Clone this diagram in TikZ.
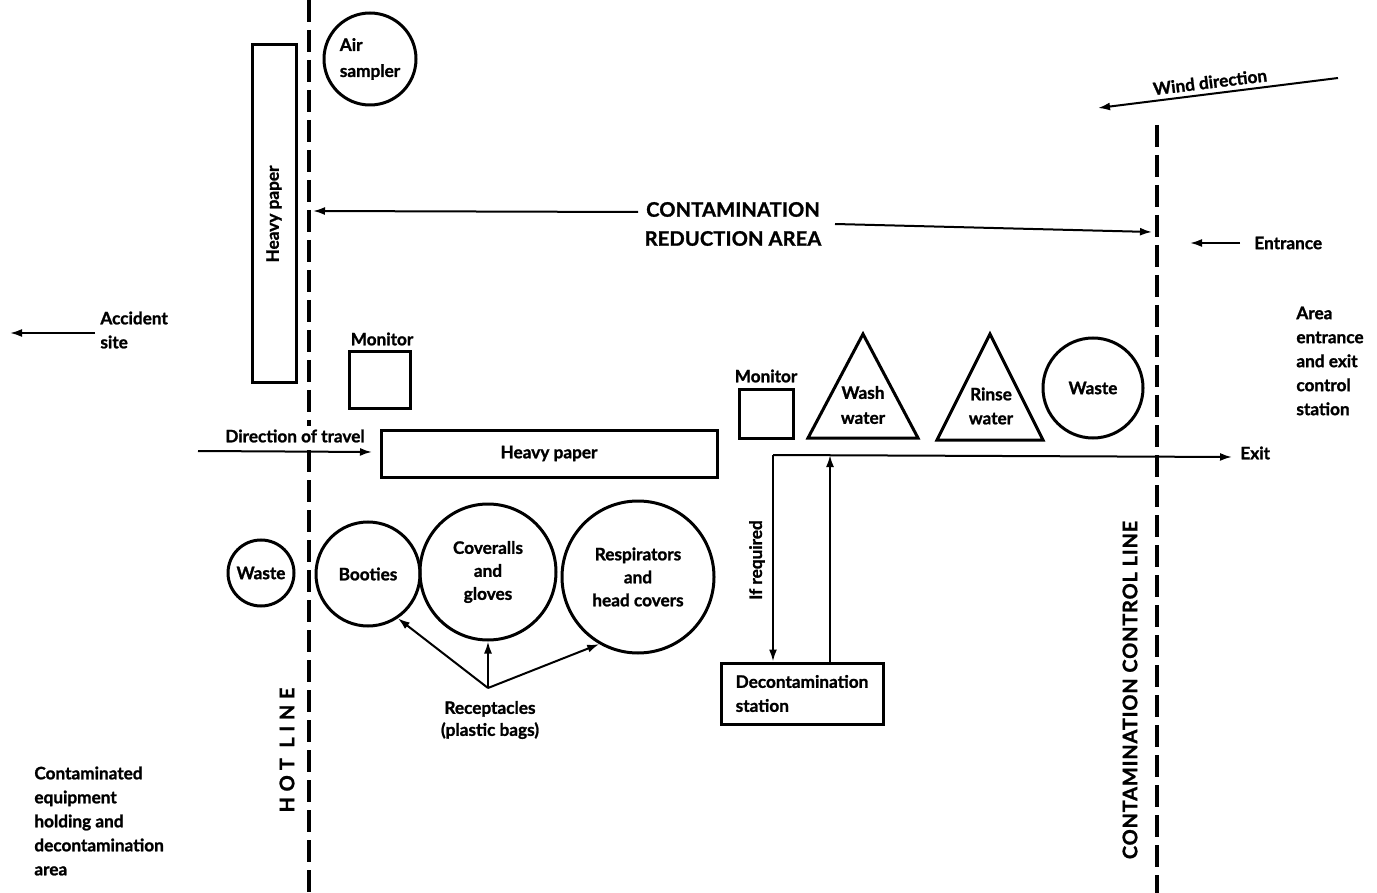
\documentclass[tikz,border=0pt]{standalone}
\usepackage{fontspec}
\setmainfont{Lato}[BoldFeatures={FakeBold=1.3}]
\newfontfamily\capsfont{Lato}[LetterSpace=1,BoldFeatures={FakeBold=1.3}]
\newfontfamily\ccfont{Lato}[LetterSpace=4,BoldFeatures={FakeBold=1.3}]
\newfontfamily\hotfont{Lato}[LetterSpace=28,BoldFeatures={FakeBold=1.3}]
\usetikzlibrary{arrows.meta,shapes.geometric}
\begin{document}
\begin{tikzpicture}[x=0.5pt,y=-0.5pt,
 lbl/.style={font=\bfseries\fontsize{8.6}{12}\selectfont, inner sep=0pt, align=left},
 lblc/.style={lbl, align=center},
 shp/.style={draw, line width=1.5pt, inner sep=0pt},
 rectbox/.style={shp, rectangle},
 circbox/.style={shp, circle, font=\bfseries\fontsize{8.6}{11.5}\selectfont, align=center},
 arr/.style={line width=1pt, -{Latex[length=6pt,width=4pt]}},
 dline/.style={line width=2pt, dash pattern=on 11pt off 4pt},
 bigcaps/.style={font=\capsfont\bfseries\fontsize{10}{14.5}\selectfont, inner sep=0pt, align=center},
]
\useasboundingbox (0,0) rectangle (1377,893);

% dashed boundary lines
\coordinate (hotT) at (309,0);
\coordinate (hotB) at (309,893);
\draw[dline] (hotT) -- (hotB);
\coordinate (ccT) at (1157,125);
\coordinate (ccB) at (1157,893);
\draw[dline] (ccT) -- (ccB);

\node[rotate=90, font=\hotfont\bfseries\fontsize{10}{12}\selectfont, inner sep=0pt] (hotlbl) at (287,750) {HOT LINE};
\node[rotate=90, font=\ccfont\bfseries\fontsize{10}{12}\selectfont, inner sep=0pt] (cclbl) at (1130,690) {CONTAMINATION CONTROL LINE};

% vertical heavy paper
\node[rectbox, rotate=90, minimum width=169pt, minimum height=22pt, font=\bfseries\fontsize{8.6}{12}\selectfont] (hp1) at (274,214) {Heavy paper};

% air sampler
\node[circbox, minimum size=46pt, align=left, font=\bfseries\fontsize{8.6}{13}\selectfont] (air) at (370,59) {Air\\sampler};

% contamination reduction area
\node[bigcaps] (cra) at (733,224) {CONTAMINATION\\REDUCTION AREA};
\coordinate (craL0) at (638,212);
\coordinate (craL1) at (313,211);
\coordinate (craR0) at (835,224);
\coordinate (craR1) at (1152,232);
\draw[arr] (craL0) -- (craL1);
\draw[arr] (craR0) -- (craR1);

% wind direction
\coordinate (w1) at (1338,78);
\coordinate (w2) at (1098,108);
\draw[arr] (w1) -- (w2);
\node[lbl, rotate=7] (windlbl) at (1210,82) {Wind direction};

% entrance
\node[lbl, anchor=west] (entr) at (1254,243) {Entrance};
\coordinate (e0) at (1240,243);
\coordinate (e1) at (1190,243);
\draw[arr] (e0) -- (e1);

\node[lbl, anchor=west] (areatxt) at (1296,361) {Area\\entrance\\and exit\\control\\station};

% accident site
\node[lbl, anchor=west] (acc) at (100,330) {Accident\\site};
\coordinate (a0) at (95,333);
\coordinate (a1) at (10,333);
\draw[arr] (a0) -- (a1);

% monitors
\node[lblc] (mon1lbl) at (382,339) {Monitor};
\node[rectbox, minimum width=30.5pt, minimum height=28.5pt] (mon1) at (379.5,380.5) {};
\node[lblc] (mon2lbl) at (766,376) {Monitor};
\node[rectbox, minimum width=27pt, minimum height=24pt] (mon2) at (766,414) {};

% horizontal heavy paper and direction of travel
\node[rectbox, minimum width=168pt, minimum height=23.5pt, font=\bfseries\fontsize{8.6}{12}\selectfont] (hp2) at (549,453.5) {Heavy paper};
\node[lblc, fill=white, inner sep=2pt] (dirlbl) at (295,436) {Direction of travel};
\coordinate (d0) at (198,451);
\coordinate (d1) at (372,452);
\draw[arr] (d0) -- (d1);

% wash / rinse water
\coordinate (wA) at (863,334);
\coordinate (wB) at (918,438);
\coordinate (wC) at (808,438);
\draw[line width=1.5pt, line join=miter] (wA) -- (wB) -- (wC) -- cycle;
\node[lblc, font=\bfseries\fontsize{8.6}{12.5}\selectfont] (washlbl) at (863,405) {Wash\\water};
\coordinate (rA) at (990,334);
\coordinate (rB) at (1043,440);
\coordinate (rC) at (937,440);
\draw[line width=1.5pt, line join=miter] (rA) -- (rB) -- (rC) -- cycle;
\node[lblc, font=\bfseries\fontsize{8.6}{12}\selectfont] (rinselbl) at (991,406) {Rinse\\water};

\node[circbox, minimum size=50pt] (waste2) at (1093,388) {Waste};

% exit route and decontamination station
\node[rectbox, minimum width=81pt, minimum height=30.5pt, align=left, font=\bfseries\fontsize{8.6}{12}\selectfont] (decon) at (802,693.5) {Decontamination\\station};
\coordinate (c1) at (773,455);
\coordinate (exitend) at (1232,457);
\draw[arr] (c1) -- (exitend);
\node[lbl, anchor=west] (exitlbl) at (1240,453) {Exit};
\draw[arr] (c1) -- (c1 |- decon.north);
\coordinate (up0) at (830,663);
\draw[arr] (up0) -- (up0 |- c1);
\node[lbl, rotate=90] (ifreq) at (757,560) {If required};

% receptacles
\node[circbox, minimum size=33pt] (waste1) at (261,573) {Waste};
\node[circbox, minimum size=52pt] (boot) at (368,574) {Booties};
\node[circbox, minimum size=68pt] (cov) at (488,572) {Coveralls\\and\\gloves};
\node[circbox, minimum size=76pt] (resp) at (638,577) {Respirators\\and\\head covers};
\node[lblc, font=\bfseries\fontsize{8.6}{11}\selectfont] (rec) at (490,720) {Receptacles\\(plastic bags)};
\coordinate (rec0) at (488,688);
\draw[arr] (rec0) -- (boot.-56);
\draw[arr] (rec0) -- (cov.south);
\draw[arr] (rec0) -- (resp.240);

% bottom-left note
\node[lbl, anchor=west] (cont) at (34,821) {Contaminated\\equipment\\holding and\\decontamination\\area};
\end{tikzpicture}
\end{document}
